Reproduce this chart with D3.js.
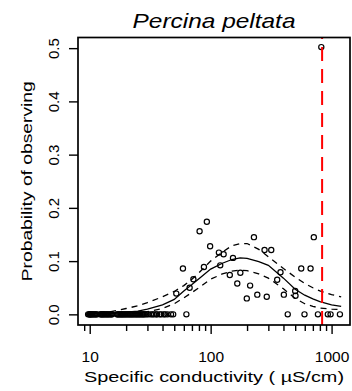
<!DOCTYPE html>
<html><head><meta charset="utf-8">
<script src="https://cdn.jsdelivr.net/npm/d3@7"></script>
<style>html,body{margin:0;padding:0;background:#fff;} svg{display:block;}</style>
</head><body>
<svg id="chart" width="352" height="391"></svg>
<script>
// ---- data ----
const titleText = "Percina peltata";
const xLabelText = "Specific conductivity ( µS/cm)";
const yLabelText = "Probability of observing";
const yTicks = [0, 0.1, 0.2, 0.3, 0.4, 0.5];
const xMajorTicks = [10, 100, 1000];
const xMinorTicks = [9, 20, 30, 40, 50, 60, 70, 80, 90, 200, 300, 400, 500, 600, 700, 800, 900];

// observations with zero probability
const zeroX = [9.7, 9.9, 10, 10.1, 10.2, 10.4, 10.5, 10.7, 10.9, 11.1, 11.3, 11.5,
  12.2, 12.4, 12.6, 12.8, 13, 13.2, 13.5, 13.7, 14, 14.2, 14.5, 14.8, 15.1, 15.3,
  16.8, 17, 17.3, 17.6, 17.9, 18.2, 18.5, 18.8, 19.1, 19.5, 19.8, 20.2, 20.6, 21, 21.4,
  21.8, 22.2, 22.6, 23, 23.5, 24, 24.4, 24.9, 25.4, 25.9, 26.4, 27, 27.5, 28, 28.6,
  29.5, 30.5, 32, 33, 34, 35.5, 36, 38, 39, 41, 42, 44, 47, 49,
  63, 434, 597, 771, 931, 981, 1172];
// observations with non-zero probability
const obsX = [93, 81, 99, 228, 713, 59, 117, 128, 88, 72, 52, 67, 144, 176, 166, 212, 199, 243,
  291, 153, 120, 279, 317, 561, 670, 378, 355, 403, 500, 503, 822];
const obsY = [0.174, 0.156, 0.128, 0.145, 0.145, 0.086, 0.116, 0.113, 0.089, 0.066, 0.039, 0.050,
  0.074, 0.078, 0.058, 0.054, 0.030, 0.037, 0.033, 0.106, 0.092, 0.121, 0.121, 0.086, 0.086,
  0.079, 0.065, 0.037, 0.044, 0.035, 0.502];

// fitted curve and confidence band
const curveX   = [9.7, 15, 20, 25, 30, 40, 50, 60, 70, 80, 100, 125, 150, 175, 200, 250, 300, 400, 500, 600, 700, 800, 1000, 1200];
const fitMid   = [0.001, 0.002, 0.004, 0.006, 0.010, 0.018, 0.028, 0.044, 0.056, 0.067, 0.085, 0.096, 0.103, 0.106, 0.105, 0.099, 0.092, 0.068, 0.047, 0.036, 0.029, 0.024, 0.018, 0.015];
const fitUpper = [0.002, 0.005, 0.011, 0.016, 0.022, 0.033, 0.043, 0.054, 0.066, 0.078, 0.100, 0.117, 0.129, 0.133, 0.133, 0.122, 0.108, 0.086, 0.070, 0.058, 0.050, 0.044, 0.037, 0.033];
const fitLower = [0.000, 0.001, 0.002, 0.003, 0.005, 0.011, 0.020, 0.031, 0.041, 0.050, 0.066, 0.076, 0.081, 0.083, 0.082, 0.076, 0.068, 0.048, 0.030, 0.020, 0.015, 0.012, 0.010, 0.009];

const threshold = 835;

// ---- drawing ----
const svg = d3.select("#chart");
const box = {left: 78, right: 350, top: 37.5, bottom: 325};
const x = d3.scaleLog().domain([8.0, 1420]).range([box.left, box.right]);
const y = d3.scaleLinear().domain([-0.02, 0.52]).range([box.bottom, box.top]);
const font = "'Liberation Sans', Arial, sans-serif";

// curves
const line = d3.line().x((d, i) => x(curveX[i])).y(d => y(d));
svg.append("path").attr("d", line(fitMid)).attr("fill", "none")
  .attr("stroke", "#000").attr("stroke-width", 1.3);
[fitUpper, fitLower].forEach(arr => {
  svg.append("path").attr("d", line(arr)).attr("fill", "none")
    .attr("stroke", "#000").attr("stroke-width", 1.3).attr("stroke-dasharray", "6,5");
});

// points
svg.append("g").selectAll("circle").data(zeroX).join("circle")
  .attr("cx", d => x(d)).attr("cy", y(0)).attr("r", 2.6)
  .attr("fill", "none").attr("stroke", "#000").attr("stroke-width", 1.2);
svg.append("g").selectAll("circle").data(obsX).join("circle")
  .attr("cx", d => x(d)).attr("cy", (d, i) => y(obsY[i])).attr("r", 2.6)
  .attr("fill", "none").attr("stroke", "#000").attr("stroke-width", 1.2);

// threshold line
svg.append("line").attr("x1", x(threshold)).attr("x2", x(threshold))
  .attr("y1", box.bottom).attr("y2", box.top)
  .attr("stroke", "#ff0000").attr("stroke-width", 2).attr("stroke-dasharray", "14,8");

// box
svg.append("rect").attr("x", box.left).attr("y", box.top)
  .attr("width", box.right - box.left).attr("height", box.bottom - box.top)
  .attr("fill", "none").attr("stroke", "#000").attr("stroke-width", 1.7);

// y axis
const yAxis = svg.append("g").attr("transform", `translate(${box.left},0)`)
  .call(d3.axisLeft(y).tickValues(yTicks).tickSize(9).tickSizeOuter(0).tickFormat(d3.format(".1f")));
yAxis.select(".domain").remove();
yAxis.selectAll("line").attr("stroke-width", 1.4);
yAxis.selectAll("text").attr("font-family", font).attr("font-size", 15).attr("fill", "#000")
  .attr("x", 0).attr("dy", null).attr("text-anchor", "middle")
  .attr("transform", "translate(-24,0) rotate(-90)").attr("dy", "0.36em");

// x axis
const xMinor = svg.append("g").attr("transform", `translate(0,${box.bottom})`)
  .call(d3.axisBottom(x).tickValues(xMinorTicks).tickSize(6).tickSizeOuter(0).tickFormat(""));
xMinor.select(".domain").remove();
xMinor.selectAll("line").attr("stroke-width", 1.4);
const xMajor = svg.append("g").attr("transform", `translate(0,${box.bottom})`)
  .call(d3.axisBottom(x).tickValues(xMajorTicks).tickSize(9).tickSizeOuter(0).tickFormat(d3.format("d")));
xMajor.select(".domain").remove();
xMajor.selectAll("line").attr("stroke-width", 1.4);
xMajor.selectAll("text").attr("font-family", font).attr("font-size", 15.5).attr("fill", "#000")
  .attr("y", 31).attr("dy", "0.36em");

// labels
svg.append("text").text(titleText).attr("x", (box.left + box.right) / 2).attr("y", 27.5)
  .attr("text-anchor", "middle").attr("font-family", font).attr("font-style", "italic")
  .attr("font-size", 21).attr("textLength", 163).attr("lengthAdjust", "spacingAndGlyphs");
svg.append("text").text(xLabelText).attr("x", (box.left + box.right) / 2).attr("y", 381.5)
  .attr("text-anchor", "middle").attr("font-family", font).attr("font-size", 15.5)
  .attr("textLength", 260).attr("lengthAdjust", "spacingAndGlyphs");
svg.append("text").text(yLabelText)
  .attr("transform", `translate(31.5,${(box.top + box.bottom) / 2}) rotate(-90)`)
  .attr("text-anchor", "middle").attr("font-family", font).attr("font-size", 15.5)
  .attr("textLength", 200).attr("lengthAdjust", "spacingAndGlyphs");
</script>
</body></html>
